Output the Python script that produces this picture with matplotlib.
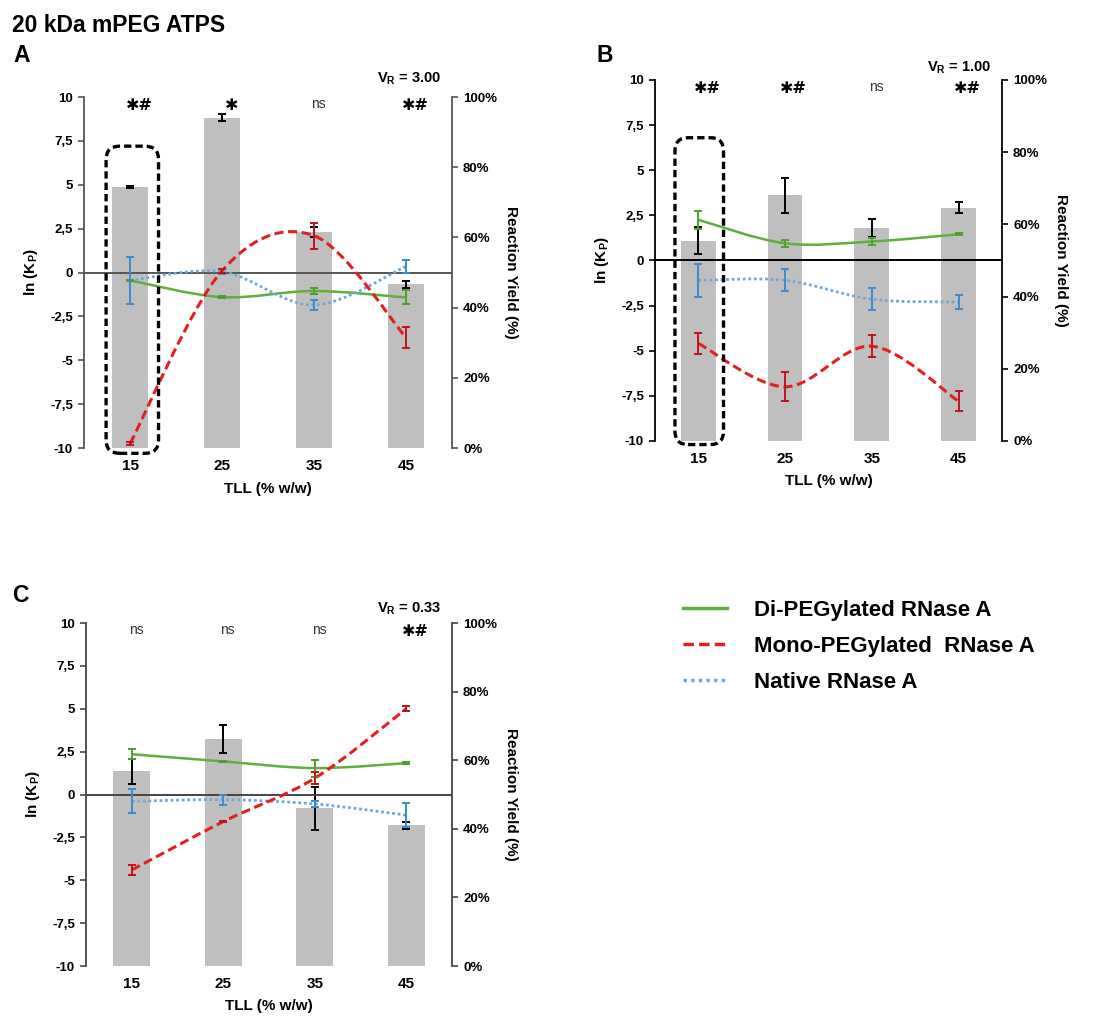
import matplotlib
matplotlib.use('Agg')
import matplotlib.pyplot as plt
from matplotlib.path import Path
from matplotlib.patches import PathPatch, FancyBboxPatch
from matplotlib.lines import Line2D

plt.rcParams['font.family'] = ['Liberation Sans', 'DejaVu Sans']
plt.rcParams['mathtext.fontset'] = 'custom'
plt.rcParams['mathtext.rm'] = 'Liberation Sans'
plt.rcParams['mathtext.bf'] = 'Liberation Sans:bold'
plt.rcParams['mathtext.it'] = 'Liberation Sans:italic'

tll = ['15', '25', '35', '45']
left_ticks = [-10, -7.5, -5, -2.5, 0, 2.5, 5, 7.5, 10]
left_labels = ['-10', '-7,5', '-5', '-2,5', '0', '2,5', '5', '7,5', '10']
right_ticks = [0, 20, 40, 60, 80, 100]
right_labels = ['0%', '20%', '40%', '60%', '80%', '100%']

# reaction yield (%) - bars
yield_a = [74.3, 94.1, 61.6, 46.7]
yield_a_err = [0.3, 1.0, 1.5, 1.0]
yield_b = [55.5, 68.0, 59.0, 64.6]
yield_b_err = [3.75, 4.75, 2.6, 1.5]
yield_c = [56.8, 66.2, 46.0, 41.0]
yield_c_err = [3.6, 4.0, 6.3, 1.0]

# ln(Kp) - Di-PEGylated
di_a = [-0.45, -1.4, -1.05, -1.42]
di_a_err = [0.05, 0.05, 0.15, 0.4]
di_b = [2.25, 0.95, 1.05, 1.45]
di_b_err = [0.5, 0.2, 0.2, 0.05]
di_c = [2.35, 1.93, 1.54, 1.83]
di_c_err = [0.3, 0.05, 0.5, 0.05]

# ln(Kp) - Mono-PEGylated
mono_a = [-9.75, 0.1, 2.1, -3.7]
mono_a_err = [0.1, 0.1, 0.75, 0.6]
mono_b = [-4.6, -7.0, -4.75, -7.8]
mono_b_err = [0.6, 0.8, 0.6, 0.55]
mono_c = [-4.4, -1.58, 0.95, 5.0]
mono_c_err = [0.3, 0.05, 0.35, 0.15]

# ln(Kp) - Native
nat_a = [-0.45, 0.05, -1.85, 0.35]
nat_a_err = [1.35, 0.15, 0.3, 0.35]
nat_b = [-1.1, -1.1, -2.15, -2.3]
nat_b_err = [0.9, 0.6, 0.6, 0.4]
nat_c = [-0.4, -0.3, -0.55, -1.2]
nat_c_err = [0.7, 0.3, 0.2, 0.7]

sig_a = ['✱#', '✱', 'ns', '✱#']
sig_b = ['✱#', '✱#', 'ns', '✱#']
sig_c = ['ns', 'ns', 'ns', '✱#']

GREEN = '#5fae3e'
RED = '#e3201f'
BLUE = '#6fa8dc'
GREEN_E = '#4f9e32'
RED_E = '#c0141b'
BLUE_E = '#3c8ad0'
BAR = '#bfbfbf'


def smooth_path(x, y):
    # excel-like smoothed line (catmull-rom as cubic bezier)
    n = len(x)
    verts = [(x[0], y[0])]
    codes = [Path.MOVETO]
    for i in range(n - 1):
        a = i - 1 if i > 0 else i
        d = i + 2 if i + 2 < n else i + 1
        c1 = (x[i] + (x[i + 1] - x[a]) / 6, y[i] + (y[i + 1] - y[a]) / 6)
        c2 = (x[i + 1] - (x[d] - x[i]) / 6, y[i + 1] - (y[d] - y[i]) / 6)
        verts += [c1, c2, (x[i + 1], y[i + 1])]
        codes += [Path.CURVE4] * 3
    return Path(verts, codes)


def panel(rect, bars, bars_err, di, di_err, mono, mono_err, nat, nat_err,
          sig, vr, vr_off, spine_col, box=None):
    ax = fig.add_axes(rect)
    ax2 = ax.twinx()
    ax.set_zorder(ax2.get_zorder() + 1)
    ax.patch.set_visible(False)
    x = list(range(len(tll)))

    ax2.bar(x, bars, width=0.4, color=BAR, zorder=1)
    ax2.errorbar(x, bars, yerr=bars_err, fmt='none', ecolor='black',
                 elinewidth=1.4, capsize=3, capthick=1.4, zorder=2)
    ax2.set_ylim(0, 100)
    ax2.set_yticks(right_ticks, right_labels)

    ax.axhline(0, color=spine_col, lw=1.4, zorder=1)
    series = [(di, di_err, GREEN, GREEN_E, '-', 1.8),
              (nat, nat_err, BLUE, BLUE_E, (0, (1, 1)), 2.0),
              (mono, mono_err, RED, RED_E, (0, (3, 1.5)), 2.2)]
    for vals, err, col, ecol, ls, lw in series:
        ax.add_patch(PathPatch(smooth_path(x, vals), fill=False, edgecolor=col,
                               lw=lw, linestyle=ls, zorder=3))
        ax.errorbar(x, vals, yerr=err, fmt='none', ecolor=ecol,
                    elinewidth=1.4, capsize=3, capthick=1.4, zorder=4)

    ax.set_xlim(-0.5, 3.5)
    ax.set_ylim(-10, 10)
    ax.set_yticks(left_ticks, left_labels)
    ax.set_xticks(x, tll)

    for i, s in enumerate(sig):
        if s == 'ns':
            ax.text(i + 0.05, 9.6, s, ha='center', va='center', fontsize=10,
                    color='#333333')
        else:
            ax.text(i + 0.1, 9.5, s, ha='center', va='center', fontsize=11.5,
                    fontweight='bold', family=['DejaVu Sans'])

    ax.annotate(r'V$_\mathbf{R}$ = ' + vr, xy=(0.97, 1), xycoords='axes fraction',
                xytext=(0, vr_off), textcoords='offset pixels',
                ha='right', va='center', fontsize=10.5, fontweight='bold')

    if box is not None:
        ax.add_patch(FancyBboxPatch((box[0], box[1]), box[2], box[3],
                                    boxstyle='round,pad=0,rounding_size=0.15',
                                    mutation_aspect=5.0, fill=False,
                                    edgecolor='black', lw=2.4,
                                    linestyle=(0, (2.2, 1.2)), clip_on=False,
                                    zorder=5))

    for a in (ax, ax2):
        a.spines['top'].set_visible(False)
        a.spines['bottom'].set_visible(False)
        a.spines['left'].set_color(spine_col)
        a.spines['right'].set_color(spine_col)
        a.spines['left'].set_linewidth(1.3)
        a.spines['right'].set_linewidth(1.3)
    ax.spines['right'].set_visible(False)
    ax2.spines['left'].set_visible(False)
    ax.tick_params(axis='y', direction='out', length=4, width=1.2,
                   color=spine_col, labelsize=9.5, pad=4)
    ax2.tick_params(axis='y', direction='out', length=4, width=1.2,
                    color=spine_col, labelsize=9.5, pad=4)
    ax.tick_params(axis='x', length=0, labelsize=11, pad=8)
    for lab in ax.get_yticklabels() + ax2.get_yticklabels() + ax.get_xticklabels():
        lab.set_fontweight('bold')

    ax.set_ylabel(r'ln (K$_\mathbf{P}$)', fontsize=11, fontweight='bold',
                  labelpad=7)
    ax2.set_ylabel('Reaction Yield (%)', fontsize=11, fontweight='bold',
                   rotation=270, labelpad=15)
    ax.set_xlabel('TLL (% w/w)', fontsize=11, fontweight='bold', labelpad=6)
    return ax


fig = plt.figure(figsize=(11.07, 10.16), dpi=100)

panel([0.0759, 0.559, 0.3324, 0.3455], yield_a, yield_a_err, di_a, di_a_err,
      mono_a, mono_a_err, nat_a, nat_a_err, sig_a, '3.00', 18, '#555555',
      box=(-0.26, -10.3, 0.57, 17.5))
panel([0.5917, 0.566, 0.3134, 0.3553], yield_b, yield_b_err, di_b, di_b_err,
      mono_b, mono_b_err, nat_b, nat_b_err, sig_b, '1.00', 12, 'black',
      box=(-0.27, -10.2, 0.56, 17.0))
panel([0.0777, 0.0492, 0.3306, 0.3376], yield_c, yield_c_err, di_c, di_c_err,
      mono_c, mono_c_err, nat_c, nat_c_err, sig_c, '0.33', 14, '#444444')

fig.text(0.011, 1 - 32 / 1016, '20 kDa mPEG ATPS', fontsize=16.5,
         fontweight='bold', va='baseline')
fig.text(0.012, 1 - 62 / 1016, 'A', fontsize=16.5, fontweight='bold', va='baseline')
fig.text(0.539, 1 - 62 / 1016, 'B', fontsize=16.5, fontweight='bold', va='baseline')
fig.text(0.011, 1 - 602 / 1016, 'C', fontsize=16.5, fontweight='bold', va='baseline')

handles = [Line2D([], [], color=GREEN, lw=2.5),
           Line2D([], [], color=RED, lw=2.5, linestyle=(0, (3, 1.5))),
           Line2D([], [], color=BLUE, lw=2.5, linestyle=(0, (1, 1.2)))]
labels = ['Di-PEGylated RNase A', 'Mono-PEGylated  RNase A', 'Native RNase A']
fig.legend(handles, labels, loc='upper left',
           bbox_to_anchor=(683 / 1107, 1 - 600 / 1016), frameon=False,
           prop={'size': 16, 'weight': 'bold'}, handlelength=2.0,
           handletextpad=1.2, labelspacing=0.68, borderpad=0, borderaxespad=0)

fig.savefig('out.png', dpi=100)
